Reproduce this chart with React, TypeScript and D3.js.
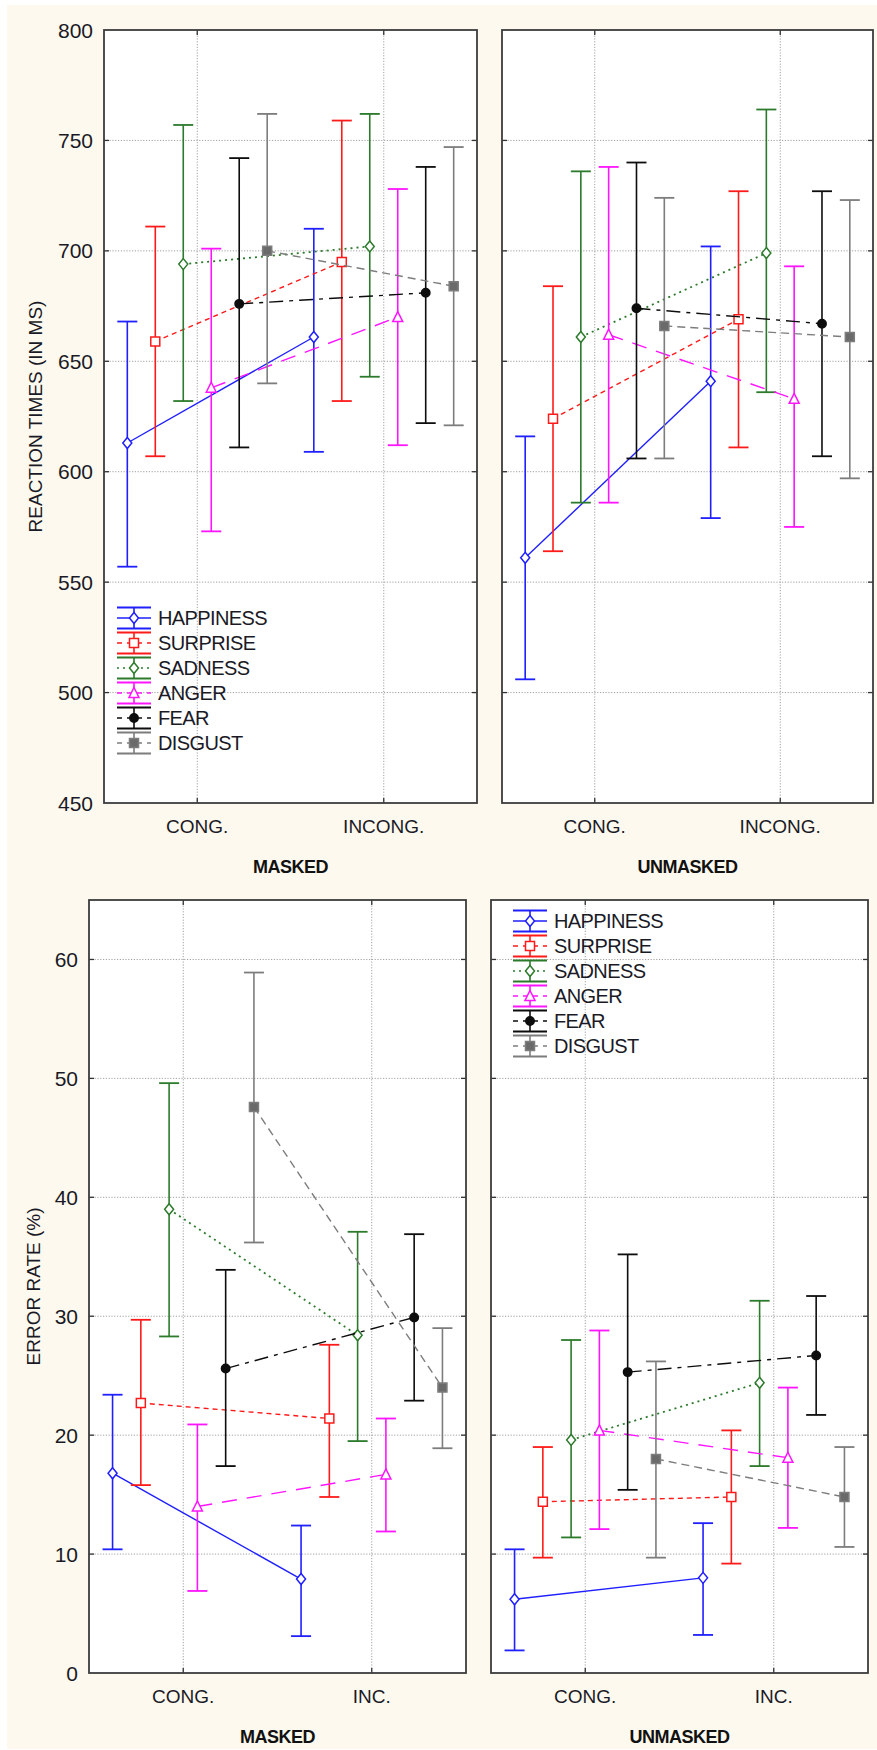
import { useEffect, useRef } from "react"
import * as d3 from "d3"

const W = 877
const H = 1750
const FONT = "'Liberation Sans', Arial, sans-serif"

const emotions = ["HAPPINESS", "SURPRISE", "SADNESS", "ANGER", "FEAR", "DISGUST"]
const rtConditions = ["CONG.", "INCONG."]
const erConditions = ["CONG.", "INC."]
const rtTicks = [450, 500, 550, 600, 650, 700, 750, 800]
const erTicks = [0, 10, 20, 30, 40, 50, 60]

// reaction times (ms), [congruent, incongruent] for each emotion
const rtMaskedMean = [[613, 661], [659, 695], [694, 702], [638, 670], [676, 681], [700, 684]]
const rtMaskedLow = [[557, 609], [607, 632], [632, 643], [573, 612], [611, 622], [640, 621]]
const rtMaskedHigh = [[668, 710], [711, 759], [757, 762], [701, 728], [742, 738], [762, 747]]

const rtUnmaskedMean = [[561, 641], [624, 669], [661, 699], [662, 633], [674, 667], [666, 661]]
const rtUnmaskedLow = [[506, 579], [564, 611], [586, 636], [586, 575], [606, 607], [606, 597]]
const rtUnmaskedHigh = [[616, 702], [684, 727], [736, 764], [738, 693], [740, 727], [724, 723]]

// error rates (%)
const erMaskedMean = [[16.8, 7.9], [22.7, 21.4], [39.0, 28.4], [14.0, 16.7], [25.6, 29.9], [47.6, 24.0]]
const erMaskedLow = [[10.4, 3.1], [15.8, 14.8], [28.3, 19.5], [6.9, 11.9], [17.4, 22.9], [36.2, 18.9]]
const erMaskedHigh = [[23.4, 12.4], [29.7, 27.6], [49.6, 37.1], [20.9, 21.4], [33.9, 36.9], [58.9, 29.0]]

const erUnmaskedMean = [[6.2, 8.0], [14.4, 14.8], [19.6, 24.4], [20.4, 18.1], [25.3, 26.7], [18.0, 14.8]]
const erUnmaskedLow = [[1.9, 3.2], [9.7, 9.2], [11.4, 17.4], [12.1, 12.2], [15.4, 21.7], [9.7, 10.6]]
const erUnmaskedHigh = [[10.4, 12.6], [19.0, 20.4], [28.0, 31.3], [28.8, 24.0], [35.2, 31.7], [26.2, 19.0]]

const styles = [
  { color: "#1f1fff", dash: "none", marker: "diamond", fill: "#fff" },
  { color: "#ff1a1a", dash: "5,4", marker: "square", fill: "#fff" },
  { color: "#2c7a2c", dash: "2,4", marker: "diamond", fill: "#fff" },
  { color: "#ff14ff", dash: "15,10", marker: "triangle", fill: "#fff" },
  { color: "#0d0d0d", dash: "14,6,4,6", marker: "circle", fill: "#0d0d0d" },
  { color: "#7d7d7d", dash: "8,5", marker: "square", fill: "#6a6a6a" },
]

type Panel = {
  left: number; right: number; top: number; bottom: number
  domain: [number, number]; ticks: number[]; conds: string[]
  mean: number[][]; low: number[][]; high: number[][]
  tickLabels: boolean; title: string; titleY: number; catY: number
  yTitle?: string; yTitleX?: number; legend?: [number, number]
}

const panels: Panel[] = [
  { left: 104, right: 477, top: 30, bottom: 803, domain: [450, 800], ticks: rtTicks, conds: rtConditions,
    mean: rtMaskedMean, low: rtMaskedLow, high: rtMaskedHigh, tickLabels: true,
    title: "MASKED", titleY: 867, catY: 826, yTitle: "REACTION TIMES (IN MS)", yTitleX: 35, legend: [117, 618] },
  { left: 502, right: 873, top: 30, bottom: 803, domain: [450, 800], ticks: rtTicks, conds: rtConditions,
    mean: rtUnmaskedMean, low: rtUnmaskedLow, high: rtUnmaskedHigh, tickLabels: false,
    title: "UNMASKED", titleY: 867, catY: 826 },
  { left: 89, right: 466, top: 900, bottom: 1673, domain: [0, 65], ticks: erTicks, conds: erConditions,
    mean: erMaskedMean, low: erMaskedLow, high: erMaskedHigh, tickLabels: true,
    title: "MASKED", titleY: 1737, catY: 1696, yTitle: "ERROR RATE (%)", yTitleX: 33 },
  { left: 491, right: 868, top: 900, bottom: 1673, domain: [0, 65], ticks: erTicks, conds: erConditions,
    mean: erUnmaskedMean, low: erUnmaskedLow, high: erUnmaskedHigh, tickLabels: false,
    title: "UNMASKED", titleY: 1737, catY: 1696, legend: [513, 921] },
]

function markerPath(kind: string) {
  if (kind === "diamond") return "M0,-5.5L4.5,0L0,5.5L-4.5,0Z"
  if (kind === "square") return "M-4.5,-4.5H4.5V4.5H-4.5Z"
  if (kind === "triangle") return "M0,-5.5L5,4.5L-5,4.5Z"
  return d3.symbol(d3.symbolCircle, 56)() as string
}

function drawMarker(g: any, st: typeof styles[number], x: number, y: number) {
  g.append("path")
    .attr("d", markerPath(st.marker))
    .attr("transform", `translate(${x},${y})`)
    .attr("fill", st.fill)
    .attr("stroke", st.color)
    .attr("stroke-width", 1.5)
}

function drawPanel(svg: any, p: Panel) {
  const y = d3.scaleLinear().domain(p.domain).range([p.bottom, p.top])
  const x = d3.scalePoint<string>().domain(p.conds).range([p.left, p.right]).padding(0.5)
  const step = (p.right - p.left) * 0.075
  const off = d3.scalePoint<string>().domain(emotions).range([-2.5 * step, 2.5 * step])
  const g = svg.append("g")

  g.append("rect")
    .attr("x", p.left).attr("y", p.top)
    .attr("width", p.right - p.left).attr("height", p.bottom - p.top)
    .attr("fill", "#fff")

  // dotted grid
  const inner = p.ticks.filter(t => y(t) > p.top + 1 && y(t) < p.bottom - 1)
  inner.forEach(t => {
    g.append("line")
      .attr("x1", p.left).attr("x2", p.right).attr("y1", y(t)).attr("y2", y(t))
      .attr("stroke", "#a0a0a0").attr("stroke-dasharray", "1.2,1.6")
  })
  p.conds.forEach(c => {
    g.append("line")
      .attr("x1", x(c)).attr("x2", x(c)).attr("y1", p.top).attr("y2", p.bottom)
      .attr("stroke", "#a0a0a0").attr("stroke-dasharray", "1.2,1.6")
  })

  // inward tick marks
  inner.forEach(t => {
    g.append("line").attr("x1", p.left).attr("x2", p.left + 5).attr("y1", y(t)).attr("y2", y(t))
      .attr("stroke", "#333").attr("stroke-width", 1.3)
    g.append("line").attr("x1", p.right - 5).attr("x2", p.right).attr("y1", y(t)).attr("y2", y(t))
      .attr("stroke", "#333").attr("stroke-width", 1.3)
  })
  p.conds.forEach(c => {
    g.append("line").attr("x1", x(c)).attr("x2", x(c)).attr("y1", p.top).attr("y2", p.top + 5)
      .attr("stroke", "#333").attr("stroke-width", 1.3)
    g.append("line").attr("x1", x(c)).attr("x2", x(c)).attr("y1", p.bottom - 5).attr("y2", p.bottom)
      .attr("stroke", "#333").attr("stroke-width", 1.3)
  })

  // series: error bars, connecting line, markers
  emotions.forEach((e, i) => {
    const st = styles[i]
    const pts = p.conds.map((c, j) => ({
      x: (x(c) as number) + (off(e) as number),
      m: p.mean[i][j], lo: p.low[i][j], hi: p.high[i][j],
    }))
    pts.forEach(pt => {
      g.append("line").attr("x1", pt.x).attr("x2", pt.x).attr("y1", y(pt.lo)).attr("y2", y(pt.hi))
        .attr("stroke", st.color).attr("stroke-width", 1.6)
      ;[pt.lo, pt.hi].forEach(v => {
        g.append("line").attr("x1", pt.x - 10).attr("x2", pt.x + 10).attr("y1", y(v)).attr("y2", y(v))
          .attr("stroke", st.color).attr("stroke-width", 1.8)
      })
    })
    g.append("path")
      .attr("d", d3.line()(pts.map(pt => [pt.x, y(pt.m)] as [number, number])))
      .attr("fill", "none")
      .attr("stroke", st.color)
      .attr("stroke-width", st.dash === "2,4" ? 1.8 : 1.4)
      .attr("stroke-dasharray", st.dash)
    pts.forEach(pt => drawMarker(g, st, pt.x, y(pt.m)))
  })

  // frame
  g.append("rect")
    .attr("x", p.left).attr("y", p.top)
    .attr("width", p.right - p.left).attr("height", p.bottom - p.top)
    .attr("fill", "none").attr("stroke", "#3c3c3c").attr("stroke-width", 1.8)

  // texts
  if (p.tickLabels) {
    p.ticks.forEach(t => {
      g.append("text")
        .attr("x", p.left - 11).attr("y", y(t))
        .attr("text-anchor", "end").attr("dominant-baseline", "central")
        .attr("font-family", FONT).attr("font-size", 21).attr("fill", "#1a1a26")
        .text(t)
    })
  }
  p.conds.forEach(c => {
    g.append("text")
      .attr("x", x(c)).attr("y", p.catY)
      .attr("text-anchor", "middle").attr("dominant-baseline", "central")
      .attr("font-family", FONT).attr("font-size", 19).attr("fill", "#1a1a26")
      .text(c)
  })
  g.append("text")
    .attr("x", (p.left + p.right) / 2).attr("y", p.titleY)
    .attr("text-anchor", "middle").attr("dominant-baseline", "central")
    .attr("font-family", FONT).attr("font-size", 18).attr("font-weight", "bold")
    .attr("fill", "#111").attr("letter-spacing", -0.5)
    .text(p.title)
  if (p.yTitle) {
    g.append("text")
      .attr("transform", `translate(${p.yTitleX},${(p.top + p.bottom) / 2}) rotate(-90)`)
      .attr("text-anchor", "middle").attr("dominant-baseline", "central")
      .attr("font-family", FONT).attr("font-size", 19).attr("fill", "#1a1a26")
      .text(p.yTitle)
  }

  if (p.legend) {
    const [lx, ly] = p.legend
    emotions.forEach((e, i) => {
      const st = styles[i]
      const cy = ly + i * 25
      const cx = lx + 17
      const lg = g.append("g")
      ;[cy - 10.5, cy + 10.5].forEach(v => {
        lg.append("line").attr("x1", lx).attr("x2", lx + 34).attr("y1", v).attr("y2", v)
          .attr("stroke", st.color).attr("stroke-width", 1.8)
      })
      lg.append("line").attr("x1", cx).attr("x2", cx).attr("y1", cy - 10.5).attr("y2", cy + 10.5)
        .attr("stroke", st.color).attr("stroke-width", 1.6)
      lg.append("line").attr("x1", lx).attr("x2", lx + 34).attr("y1", cy).attr("y2", cy)
        .attr("stroke", st.color).attr("stroke-width", 1.4)
        .attr("stroke-dasharray", st.dash === "none" ? "none" : st.dash === "2,4" ? "2,4" : "5,5")
      drawMarker(lg, st, cx, cy)
      lg.append("text")
        .attr("x", lx + 41).attr("y", cy)
        .attr("dominant-baseline", "central")
        .attr("font-family", FONT).attr("font-size", 20).attr("fill", "#1a1a26")
        .attr("letter-spacing", -0.6)
        .text(e)
    })
  }
}

export default function App() {
  const ref = useRef<SVGSVGElement>(null)

  useEffect(() => {
    if (!ref.current) return
    const svg = d3.select(ref.current)
    svg.selectAll("*").remove()

    svg.append("rect").attr("width", W).attr("height", H).attr("fill", "#fff")
    svg.append("rect").attr("x", 7).attr("y", 5).attr("width", W - 7).attr("height", H - 6)
      .attr("fill", "#fdf9ee")

    panels.forEach(p => drawPanel(svg, p))
  }, [])

  return (
    <svg
      ref={ref}
      width={W}
      height={H}
      style={{ position: "absolute", left: 0, top: 0, display: "block" }}
    />
  )
}
